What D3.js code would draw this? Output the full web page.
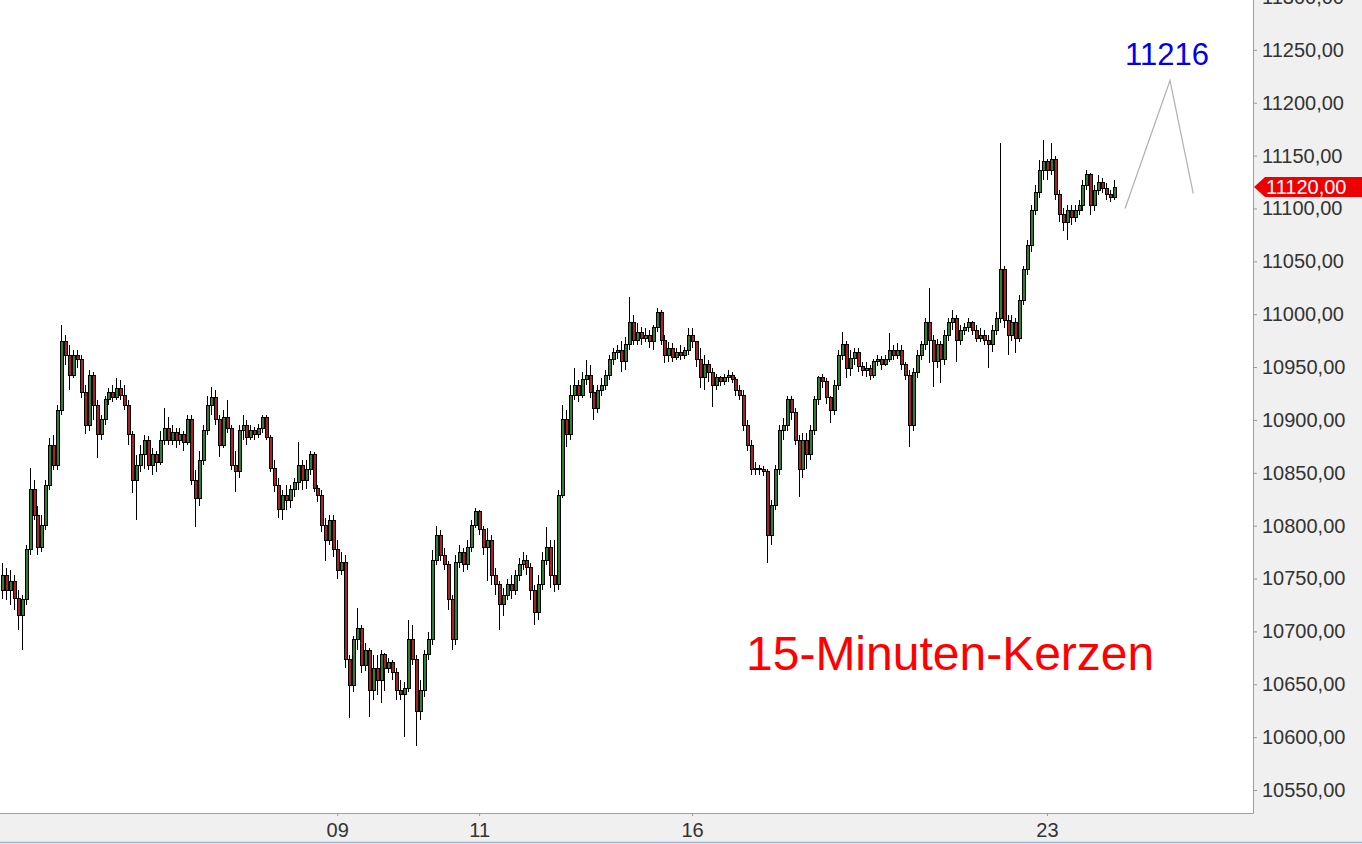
<!DOCTYPE html>
<html><head><meta charset="utf-8">
<script src="https://cdn.jsdelivr.net/npm/d3@7"></script>
<style>html,body{margin:0;padding:0;background:#f0f0f0;overflow:hidden}svg{display:block}</style>
</head><body><svg id="c" width="1362" height="844"></svg>
<script>
// ---- data ----
const opens=[10739,10753,10739,10747,10731,10715,10730,10777,10834,10810,10779,10800,10838,10876,10857,10909,10974,10961,10942,10961,10957,10926,10895,10942,10914,10886,10900,10919,10926,10921,10930,10923,10914,10886,10843,10857,10867,10881,10857,10867,10860,10881,10892,10881,10888,10881,10886,10879,10900,10843,10826,10862,10890,10914,10921,10900,10876,10902,10892,10857,10851,10890,10895,10883,10890,10886,10892,10902,10883,10854,10838,10815,10829,10824,10834,10841,10857,10843,10853,10867,10835,10829,10800,10786,10805,10777,10758,10765,10673,10649,10692,10703,10668,10682,10644,10665,10654,10678,10665,10671,10661,10644,10640,10646,10692,10673,10624,10644,10678,10692,10767,10791,10772,10763,10730,10692,10765,10775,10763,10779,10800,10813,10796,10779,10786,10753,10744,10725,10734,10744,10739,10753,10763,10767,10760,10739,10718,10744,10767,10779,10753,10744,10829,10900,10886,10923,10933,10923,10938,10942,10926,10911,10928,10933,10942,10957,10964,10966,10955,10971,10992,10975,10983,10977,10980,10974,10987,11002,10975,10961,10968,10959,10964,10961,10966,10980,10974,10957,10940,10952,10945,10933,10940,10936,10940,10942,10938,10928,10923,10895,10876,10853,10854,10853,10851,10791,10819,10853,10890,10895,10919,10907,10881,10853,10881,10867,10890,10919,10940,10936,10921,10909,10933,10961,10971,10949,10958,10964,10951,10947,10949,10942,10955,10957,10952,10957,10966,10961,10966,10952,10942,10895,10945,10961,10971,10992,10975,10955,10971,10957,10980,10992,10996,10975,10985,10987,10992,10985,10977,10980,10975,10971,10985,10996,11042,10994,10980,10992,10977,11013,11042,11065,11098,11115,11136,11144,11136,11146,11113,11094,11087,11098,11091,11098,11103,11122,11132,11103,11117,11125,11119,11113,11110];
const highs=[10765,10760,10758,10753,10739,10734,10782,10855,10843,10819,10810,10843,10883,10886,10914,10990,10980,10971,10966,10966,10961,10933,10947,10945,10919,10905,10923,10930,10933,10940,10938,10933,10919,10890,10867,10876,10886,10885,10873,10871,10890,10911,10903,10895,10892,10892,10890,10905,10905,10853,10871,10895,10923,10931,10928,10905,10909,10919,10895,10871,10895,10905,10900,10895,10893,10896,10905,10905,10886,10862,10845,10834,10838,10838,10845,10879,10862,10862,10871,10870,10838,10834,10807,10810,10810,10786,10775,10772,10678,10696,10722,10706,10689,10684,10678,10678,10682,10680,10675,10673,10665,10654,10652,10711,10706,10678,10654,10682,10699,10777,10800,10796,10779,10767,10734,10772,10782,10779,10786,10805,10817,10815,10800,10798,10791,10760,10748,10741,10750,10753,10758,10769,10775,10772,10765,10744,10753,10775,10799,10786,10786,10834,10914,10909,10933,10949,10938,10945,10957,10952,10933,10933,10940,10947,10961,10968,10971,10975,10978,11016,10999,10992,10988,10987,10985,10990,11006,11004,10980,10974,10973,10968,10971,10969,10987,10987,10975,10968,10961,10957,10949,10943,10942,10943,10947,10945,10941,10933,10928,10900,10881,10860,10857,10856,10854,10824,10857,10895,10902,10923,10923,10911,10886,10888,10888,10895,10923,10942,10943,10940,10923,10938,10966,10983,10975,10966,10968,10968,10955,10955,10952,10958,10961,10960,10961,10982,10971,10973,10971,10955,10947,10949,10966,10975,10996,11025,10980,10977,10975,10985,10996,11004,10999,10990,10992,10996,10994,10990,10987,10985,10980,10990,11002,11162,11046,10999,10999,10996,11018,11046,11070,11103,11122,11146,11165,11147,11162,11150,11117,11100,11103,11103,11103,11108,11127,11136,11134,11122,11132,11129,11124,11117,11127];
const lows=[10731,10730,10725,10720,10701,10682,10725,10772,10805,10772,10775,10796,10834,10853,10853,10905,10952,10928,10940,10949,10921,10887,10890,10900,10864,10881,10895,10914,10917,10919,10919,10909,10876,10831,10805,10851,10854,10853,10848,10851,10857,10876,10876,10876,10873,10876,10871,10876,10838,10799,10819,10857,10886,10905,10895,10865,10873,10888,10853,10832,10845,10881,10876,10881,10881,10883,10888,10881,10851,10832,10807,10805,10815,10817,10827,10834,10834,10835,10848,10832,10822,10794,10767,10782,10770,10750,10753,10665,10618,10643,10682,10661,10663,10619,10635,10640,10632,10644,10661,10654,10635,10635,10600,10643,10668,10592,10616,10638,10673,10687,10763,10767,10758,10720,10682,10687,10760,10756,10758,10775,10798,10791,10772,10748,10744,10734,10701,10715,10730,10731,10734,10748,10758,10753,10730,10706,10711,10739,10763,10741,10737,10739,10826,10874,10881,10919,10917,10921,10933,10921,10900,10907,10923,10928,10938,10952,10958,10945,10947,10966,10971,10971,10971,10974,10968,10966,10983,10971,10954,10955,10955,10957,10957,10958,10961,10968,10950,10930,10928,10936,10912,10928,10932,10933,10936,10935,10923,10919,10890,10871,10848,10848,10848,10847,10765,10782,10815,10848,10881,10890,10900,10876,10827,10845,10854,10862,10886,10914,10930,10915,10897,10905,10928,10957,10940,10942,10952,10945,10942,10941,10938,10940,10951,10947,10951,10955,10957,10958,10947,10938,10874,10890,10940,10957,10966,10954,10931,10949,10935,10952,10975,10985,10955,10971,10980,10983,10980,10974,10974,10971,10949,10964,10980,10992,10987,10961,10975,10963,10974,11009,11037,11059,11094,11110,11127,11127,11132,11108,11087,11079,11070,11084,11087,11094,11098,11117,11094,11098,11113,11115,11108,11106,11108];
const closes=[10753,10739,10747,10731,10715,10730,10777,10834,10810,10779,10800,10838,10876,10857,10909,10974,10961,10942,10961,10957,10926,10895,10942,10914,10886,10900,10919,10926,10921,10930,10923,10914,10886,10843,10857,10867,10881,10857,10867,10860,10881,10892,10881,10888,10881,10886,10879,10900,10843,10826,10862,10890,10914,10921,10900,10876,10902,10892,10857,10851,10890,10895,10883,10890,10886,10892,10902,10883,10854,10838,10815,10829,10824,10834,10841,10857,10843,10853,10867,10835,10829,10800,10786,10805,10777,10758,10765,10673,10649,10692,10703,10668,10682,10644,10665,10654,10678,10665,10671,10661,10644,10640,10646,10692,10673,10624,10644,10678,10692,10767,10791,10772,10763,10730,10692,10765,10775,10763,10779,10800,10813,10796,10779,10786,10753,10744,10725,10734,10744,10739,10753,10763,10767,10760,10739,10718,10744,10767,10779,10753,10744,10829,10900,10886,10923,10933,10923,10938,10942,10926,10911,10928,10933,10942,10957,10964,10966,10955,10971,10992,10975,10983,10977,10980,10974,10987,11002,10975,10961,10968,10959,10964,10961,10966,10980,10974,10957,10940,10952,10945,10933,10940,10936,10940,10942,10938,10928,10923,10895,10876,10853,10854,10853,10851,10791,10819,10853,10890,10895,10919,10907,10881,10853,10881,10867,10890,10919,10940,10936,10921,10909,10933,10961,10971,10949,10958,10964,10951,10947,10949,10942,10955,10957,10952,10957,10966,10961,10966,10952,10942,10895,10945,10961,10971,10992,10975,10955,10971,10957,10980,10992,10996,10975,10985,10987,10992,10985,10977,10980,10975,10971,10985,10996,11042,10994,10980,10992,10977,11013,11042,11065,11098,11115,11136,11144,11136,11146,11113,11094,11087,11098,11091,11098,11103,11122,11132,11103,11117,11125,11119,11113,11110,11120];
const dayLabels=["09","11","16","23"];
const dayStartIndex=[85,121,175,265];
const yTickValues=[10550,10600,10650,10700,10750,10800,10850,10900,10950,11000,11050,11100,11150,11200,11250,11300];
const lastPrice=11120;
const targetText="11216";
const projIndex=[284.8,296.2,302.1];
const projPrice=[11100,11221,11114];
const chartTitle="15-Minuten-Kerzen";

// ---- layout ----
const W=1362,H=844,plotR=1253,plotB=813;
const FONT='"Liberation Sans", Arial, sans-serif';
const svg=d3.select("#c");
const x=d3.scaleLinear().domain([0,opens.length-1]).range([2,1114]);
const y=d3.scaleLinear().domain([10550,11300]).range([790,-3]);

svg.append("rect").attr("width",W).attr("height",H).attr("fill","#f0f0f0");
svg.append("rect").attr("width",plotR).attr("height",plotB).attr("fill","#ffffff");

// candles
const g=svg.append("g").attr("shape-rendering","crispEdges");
const idx=d3.range(opens.length);
g.selectAll("line.w").data(idx).join("line").attr("class","w")
  .attr("x1",i=>Math.round(x(i))+0.5).attr("x2",i=>Math.round(x(i))+0.5)
  .attr("y1",i=>y(highs[i])).attr("y2",i=>y(lows[i]))
  .attr("stroke","#000").attr("stroke-width",1);
g.selectAll("rect.b").data(idx).join("rect").attr("class","b")
  .attr("x",i=>Math.round(x(i))-1)
  .attr("width",3)
  .attr("y",i=>Math.min(y(opens[i]),y(closes[i])))
  .attr("height",i=>Math.max(1,Math.abs(y(opens[i])-y(closes[i]))))
  .attr("fill",i=>closes[i]>=opens[i]?"#2f7f2f":"#a82222")
  .attr("stroke","#000").attr("stroke-width",1);

// borders
svg.append("line").attr("x1",plotR+0.5).attr("x2",plotR+0.5).attr("y1",0).attr("y2",plotB+0.5).attr("stroke","#a0a0a0");
svg.append("line").attr("x1",0).attr("x2",plotR+0.5).attr("y1",plotB+0.5).attr("y2",plotB+0.5).attr("stroke","#a0a0a0");
svg.append("line").attr("x1",0).attr("x2",W).attr("y1",842.5).attr("y2",842.5).attr("stroke","#9fb4d0").attr("stroke-width",1.5);

// y axis
const fmt=d=>d3.format(".2f")(d).replace(".",",");
const ya=svg.append("g").attr("transform",`translate(${plotR},0)`)
  .call(d3.axisRight(y).tickValues(yTickValues).tickSize(4).tickPadding(5).tickFormat(fmt));
ya.select(".domain").remove();
ya.selectAll("line").attr("stroke","#999");
ya.selectAll("text").attr("fill","#333").style("font-family",FONT).style("font-size","20px");

// x axis
const xa=svg.append("g").attr("transform",`translate(0,${plotB})`)
  .call(d3.axisBottom(x).tickValues(dayStartIndex).tickSize(3).tickPadding(7).tickFormat((d,i)=>dayLabels[i]));
xa.select(".domain").remove();
xa.selectAll("line").attr("stroke","#999");
xa.selectAll("text").attr("fill","#333").style("font-family",FONT).style("font-size","20px");

// last price tag
const ty=Math.round(y(lastPrice));
svg.append("path")
  .attr("d",`M${plotR+1},${ty} L${plotR+12},${ty-10} L${W},${ty-10} L${W},${ty+10} L${plotR+12},${ty+10} Z`)
  .attr("fill","#ee0000");
svg.append("text").attr("x",plotR+13).attr("y",ty).attr("dy","0.36em")
  .attr("fill","#fff").style("font-family",FONT).style("font-size","20px").text(fmt(lastPrice));

// projection lines and target
svg.append("path")
  .attr("d",d3.line()(projIndex.map((d,i)=>[x(d),y(projPrice[i])])))
  .attr("fill","none").attr("stroke","#b0b0b0").attr("stroke-width",1.2);
svg.append("text").attr("x",x(projIndex[1])-3).attr("y",65).attr("text-anchor","middle")
  .attr("fill","#0000ee").style("font-family",FONT).style("font-size","31px").text(targetText);

// title
svg.append("text").attr("x",746).attr("y",670)
  .attr("fill","#ff0000").style("font-family",FONT).style("font-size","48px").text(chartTitle);
</script></body></html>
